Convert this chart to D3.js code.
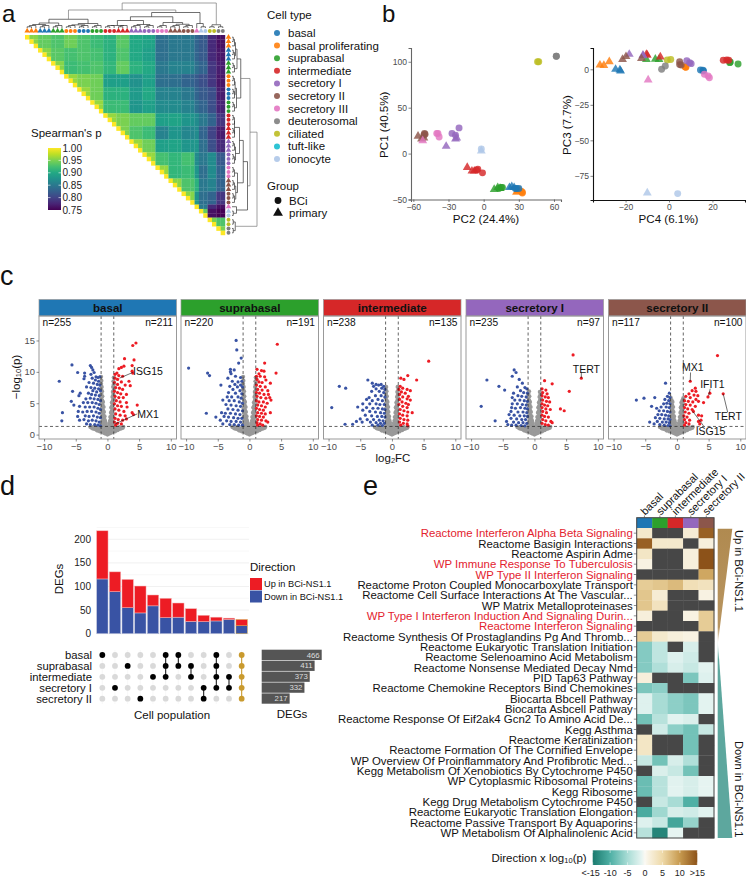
<!DOCTYPE html>
<html><head><meta charset="utf-8">
<script src="https://cdn.jsdelivr.net/npm/d3@7"></script>
<style>
html,body{margin:0;padding:0;background:#fff}
text{font-family:"Liberation Sans",Arial,sans-serif}
</style></head><body><svg id="c" width="746" height="878"></svg>
<script>
// ---------- shared colours / categories
const cellTypes=['basal','basal proliferating','suprabasal','intermediate','secretory I','secretory II','secretory III','deuterosomal','ciliated','tuft-like','ionocyte'];
const cellColors=['#1f77b4','#ff7f0e','#2ca02c','#d62728','#9467bd','#8c564b','#e377c2','#7f7f7f','#bcbd22','#17becf','#aec7e8'];
// ---------- panel a / b samples
const groupType=[1,0,2,1,0,2,3,3,4,4,6,5,5,6,10,8,7];
const groupShape=['t','t','t','c','c','c','c','t','t','c','c','t','c','t','m','c','c'];
const groupCount=[3,3,3,3,3,3,3,3,3,3,3,3,3,1,2,2,2];
const blockUpper=[
[.955,.94,.93,.945,.93,.92,.91,.935,.90,.895,.84,.85,.85,.83,.82,.78,.76],
[.955,.935,.925,.93,.925,.91,.93,.90,.89,.84,.85,.85,.83,.82,.78,.765],
[.955,.92,.925,.93,.915,.94,.91,.90,.85,.86,.86,.84,.83,.79,.77],
[.96,.95,.945,.89,.89,.875,.89,.84,.84,.83,.82,.81,.79,.765],
[.96,.945,.91,.91,.885,.90,.86,.86,.85,.83,.82,.81,.77],
[.96,.92,.92,.88,.89,.87,.87,.86,.84,.83,.81,.775],
[.96,.95,.94,.94,.89,.895,.88,.87,.85,.83,.79],
[.95,.93,.92,.86,.88,.865,.87,.83,.80,.77],
[.96,.945,.89,.895,.88,.88,.84,.81,.78],
[.96,.925,.915,.925,.87,.85,.87,.82],
[.96,.915,.92,.88,.84,.87,.83],
[.955,.93,.91,.85,.86,.83],
[.955,.88,.84,.83,.79],
[1,.85,.78,.76],
[.94,.76,.75],
[.95,.93],
[.95]];
const dendroTree=[1,[.72,[.35,[.2,0,1,2],[.18,3,4,5]],[.62,[.45,[.3,[.1,6,7],[.14,8,9]],[.22,10,[.15,11,12]]],[.18,13,14]]],[.13,15,16]];
const leafHeights=[.05,.1];
const rhoTicks=[1,.95,.9,.85,.8,.75];
const pc2=[29,31,28,24,22,26,9,12,14,33,32,33,28,30,27,15,13,16,-6,-5,-1,-14,-10,-8,-23,-32,-24,-21,-27,-24,-40,-39,-38,-56,-53,-51,-50,-50.5,-51,-52,-2,-2,46,47,62,62];
const pc1=[-41,-40,-42,-36,-37,-37,-39,-37,-38,-42,-41,-43,-38,-38,-38,-37,-38,-37,-18,-17,-21,-15,-19,-19,17,8,16,28,22,20,22,22,18,19,16,17,21,22,20,14,3,5,100,100,106,106];
const pc4=[-31.8,-30,-27.5,-24.6,-22.3,-22.6,-10.4,-6.3,-4.6,7.6,7.4,7.8,14.5,15.6,15.9,28.2,31.8,28,25,26.6,27.5,-10.4,-4,-10,-18.3,-11.9,-12,8.2,9.5,10.2,16.3,18,18.6,-21.4,-19.8,-12.7,4.9,4.9,5.6,-9.6,-10,4,-.8,.8,-3.4,-1.7];
const pc3=[3,2.8,5.4,0,-1.2,-.4,7,7.2,7,1.6,1.8,1.4,-.5,-.7,-1.2,5.2,3.8,4.7,6.4,6.6,6.4,10.6,8.7,10,10.6,9.5,10,6,4.7,4,-3.5,-4.7,-5.9,7,9,7.6,5.4,3.3,3,-7.5,-87,-87.5,6.6,6.9,0,2.4];
// ---------- panel c
const volcanoNames=['basal','suprabasal','intermediate','secretory I','secretory II'];
const volcanoColors=['#1f77b4','#2ca02c','#d62728','#9467bd','#8c564b'];
const nDown=[255,220,238,235,117], nUp=[211,191,135,97,100];
const grayPeak=[9.3,9.2,7.8,6.9,5.9];
const grayPoints=[[-1,9.2],[-.95,8.6],[-1,8.1],[-.9,7.6],[-1,7.2],[-.85,6.9],[-.95,6.5],[-.8,6.1],[-1,5.9],[-.85,5.5],[-.7,5.2],[-.95,5],[-.75,4.7],[-.6,4.4],[-.9,4.2],[-.7,3.9],[-.55,3.6],[-.85,3.4],[-.65,3.1],[-.45,2.9],[-.9,2.8],[-.6,2.6],[-.4,2.3],[-.8,2.2],[-.55,2],[-.3,1.9],[-.95,1.6],[-.7,1.6],[-.45,1.5],[-.2,1.4],
[1,9.1],[.95,8.5],[1,8],[.9,7.6],[1,7.1],[.85,6.8],[.95,6.4],[.8,6],[1,5.8],[.85,5.4],[.7,5.1],[.95,4.9],[.75,4.6],[.6,4.3],[.9,4.1],[.7,3.8],[.55,3.5],[.85,3.3],[.65,3],[.45,2.8],[.9,2.7],[.6,2.5],[.4,2.2],[.8,2.1],[.55,1.9],[.3,1.8],[.95,1.5],[.7,1.5],[.45,1.4],[.2,1.3],
[-2.7,1.2],[-2.4,1],[-2.1,.9],[-2.2,1.25],[-1.8,1.2],[-1.8,.8],[-1.6,.65],[-1.4,1],[-1.2,.5],[-1.3,.8],[-1,1],[-1,.6],[-.8,.9],[-.8,.45],[-.6,.3],[-.6,.75],[-.4,.9],[-.4,.2],[-.2,.15],[-.2,.6],[-.1,1],[0,0],[0,.4],[0,.8],[0,1.2],[.1,.1],[.2,.6],[.2,.2],[.4,.2],[.4,.85],[.6,.3],[.6,.7],[.8,.45],[.8,.95],[1,.55],[1,1],[1.2,.5],[1.3,.85],[1.4,1.1],[1.6,.7],[1.8,.85],[1.9,1.2],[2.1,.95],[2.4,1.05],[2.5,1.25]];
const vDown=[
[[-7.6,8.5],[-7.1,3.5],[-7.2,2.2],[-5.6,11.1],[-4.7,9.9],[-5.5,6.9],[-4.3,6.6],[-4.5,6.2],[-5.7,5.3],[-5.3,4.7],[-3.6,9.8],[-3.6,9.3],[-3.7,8.9],[-2.7,11],[-2.5,10.7],[-2.3,10.3],[-2.1,9.9],[-2.6,9.6],[-1.8,9.2],[-1.5,9.1],[-1.2,9.2],[-2.4,9],[-1.9,8.7],[-1.4,8.5],[-2.9,8.3],[-2.2,8.2],[-1.6,8],[-1.2,7.9],[-3.3,7.6],[-2.6,7.5],[-2,7.4],[-1.4,7.3],[-1.1,7],[-2.3,7],[-1.7,6.8],[-3,6.6],[-2.5,6.4],[-1.9,6.3],[-1.3,6.2],[-3.4,5.7],[-2.7,5.8],[-2.1,5.7],[-1.5,5.6],[-1.1,5.4],[-3.8,5.1],[-3.1,5.1],[-2.4,5.1],[-1.8,5],[-1.3,4.8],[-4.4,4.5],[-3.5,4.4],[-2.8,4.4],[-2.1,4.4],[-1.5,4.2],[-1.1,4],[-4.6,3.7],[-3.9,3.6],[-3.2,3.7],[-2.5,3.7],[-1.8,3.6],[-1.3,3.4],[-4.7,2.9],[-3.5,3],[-2.9,2.9],[-2.2,3],[-1.6,2.8],[-1.1,2.7],[-4.4,2.3],[-3.7,2.4],[-3,2.2],[-2.4,2.3],[-1.8,2.2],[-1.3,2],[-3.3,1.7],[-2.7,1.6],[-2,1.6],[-1.5,1.5],[-1.1,1.4]],
[[-9.6,10.6],[-6.6,9.8],[-6.3,9.4],[-4.5,7.9],[-6.8,3.4],[-5.3,2.8],[-2.1,15],[-2,13.5],[-1.3,12.2],[-1.7,11.4],[-3,10.4],[-3,10],[-2.9,9.7],[-2.4,10.3],[-2.2,9.3],[-3.4,9],[-1.4,9.1],[-1.2,8.5],[-2.7,8.5],[-1.8,8.4],[-2.3,8],[-1.4,7.9],[-3.1,7.7],[-1.9,7.6],[-1.1,7.6],[-2.6,7.2],[-1.5,7],[-3.3,6.7],[-2.2,6.6],[-1.2,6.5],[-3.5,6],[-2.8,6],[-1.8,6],[-1.3,5.8],[-4.2,5.5],[-3.2,5.4],[-2.4,5.4],[-1.6,5.2],[-1.1,5],[-3.7,4.8],[-2.9,4.7],[-2.1,4.6],[-1.4,4.5],[-3.4,4.1],[-2.6,4],[-1.8,3.9],[-1.1,3.8],[-4.4,3.5],[-3.8,3.4],[-3,3.4],[-2.2,3.3],[-1.5,3.2],[-4,2.9],[-3.3,2.8],[-2.5,2.7],[-1.8,2.6],[-1.2,2.6],[-4.6,2.3],[-3.6,2.2],[-2.9,2.1],[-2.1,2.1],[-1.4,2],[-4.2,1.7],[-3.1,1.6],[-2.4,1.6],[-1.7,1.5],[-1.1,1.5]],
[[-8.3,7.7],[-7.3,7.4],[-9.5,4.3],[-3.8,8.7],[-5.4,4.4],[-4.6,3.9],[-7.4,1.65],[-6.2,1.65],[-3.1,8.2],[-2.9,7.7],[-2.5,8],[-2.1,7.9],[-1.7,8],[-1.3,7.7],[-2.5,7.3],[-1.6,7.4],[-1.1,7.2],[-3.2,6.9],[-2,6.9],[-1.3,6.7],[-3.6,5.9],[-4,5.6],[-2.6,6.2],[-1.7,6.2],[-1.1,6],[-3.1,5.4],[-2.2,5.6],[-1.5,5.4],[-4.6,4.9],[-3.5,4.9],[-2.5,4.9],[-1.9,4.8],[-1.2,4.8],[-4,4.3],[-3,4.2],[-2.2,4.2],[-1.5,4.1],[-1.1,4],[-3.5,3.7],[-2.6,3.6],[-1.8,3.5],[-1.2,3.4],[-4.2,3.1],[-3.2,3],[-2.3,2.9],[-1.6,2.9],[-1.1,2.8],[-5,2.5],[-3.9,2.4],[-2.9,2.4],[-2,2.3],[-1.4,2.2],[-4.7,2],[-3.4,2],[-2.5,1.9],[-1.8,1.8],[-1.2,1.8],[-5.6,2.1],[-3.1,1.5],[-2.2,1.5],[-1.5,1.45]],
[[-7.5,8.7],[-5.6,7.7],[-4.7,7.1],[-8.4,4.5],[-6.2,2.2],[-3.2,10.3],[-2.9,9.9],[-3.5,9.3],[-2.4,8.8],[-1.9,8.2],[-2.7,7.6],[-1.5,7.5],[-1.2,7.3],[-2.2,7],[-3.3,6.6],[-1.7,6.7],[-1.1,6.6],[-2.6,6.2],[-3.5,5.9],[-2,6.1],[-1.3,6],[-3.1,5.5],[-2.3,5.5],[-1.6,5.4],[-1.1,5.3],[-3.5,4.9],[-2.7,4.9],[-1.9,4.8],[-1.3,4.7],[-3.6,4.3],[-3,4.2],[-2.2,4.3],[-1.5,4.2],[-1.1,4.1],[-3.7,3.7],[-2.6,3.6],[-1.8,3.6],[-1.2,3.5],[-4,3.2],[-3.2,3.1],[-2.3,3],[-1.6,3],[-1.1,2.9],[-3.7,2.6],[-2.8,2.5],[-2,2.4],[-1.4,2.4],[-4.4,2.1],[-3.3,2],[-2.5,1.9],[-1.8,1.9],[-1.2,1.8],[-4.2,1.6],[-3.6,1.5],[-2.9,1.5],[-2.1,1.45],[-1.5,1.4]],
[[-6.4,5.5],[-5.2,5.8],[-3.5,5.9],[-4,4.5],[-3.2,4.2],[-4.3,2],[-1.8,8.2],[-1.2,6.6],[-1.5,6.1],[-1.1,5.9],[-1.9,5.6],[-1.3,5.4],[-1.6,5],[-2.1,4.9],[-1.1,4.9],[-2.5,4.4],[-1.7,4.4],[-1.2,4.3],[-2.8,3.8],[-2.1,3.8],[-1.5,3.7],[-1.1,3.6],[-3,3.2],[-2.4,3.2],[-1.8,3.1],[-1.3,3],[-3.4,2.7],[-2.7,2.6],[-2,2.5],[-1.4,2.5],[-1.1,2.4],[-3.1,2.1],[-2.3,2],[-1.7,2],[-1.2,1.9],[-3.6,1.7],[-2.7,1.6],[-2,1.5],[-1.4,1.45],[-1.1,1.4]]];
const vUp=[
[[4.5,14.6],[4,14.2],[2.7,12.1],[4.2,11.9],[3.9,11],[2.6,10.9],[2.2,10.7],[1.8,10.5],[3.9,10.1],[4,9.8],[1.5,9.8],[1.2,9.6],[1.8,9.4],[2.4,9.3],[1.2,9],[1.6,8.8],[3.4,8.5],[2.2,8.4],[1.1,8.3],[1.6,8],[2.8,7.9],[3.6,7.8],[1.3,7.5],[1.9,7.4],[2.4,7.2],[1.1,6.9],[1.6,6.7],[2.1,6.5],[3,6.4],[1.2,6.1],[1.8,5.9],[2.5,5.9],[1.4,5.4],[2,5.2],[3,5.1],[1.1,4.9],[1.6,4.6],[2.2,4.5],[4.7,4.7],[3.1,4.4],[1.2,4.1],[1.8,3.9],[2.6,3.7],[3.9,3.5],[4.1,3.2],[1.3,3.3],[2,3.1],[2.8,3],[1.2,2.6],[1.7,2.4],[2.4,2.3],[3,2.5],[1.1,2],[1.6,1.8],[2.2,1.7],[1.3,1.5]],
[[4.4,14.4],[2.4,11.4],[4.2,9.8],[1.2,10.4],[1.9,10.2],[2.3,10.1],[1.5,9.7],[1.1,9.3],[1.7,9.3],[2.4,9.2],[1.2,8.8],[2.6,8.7],[1.5,8.4],[2,8.3],[3.3,8.2],[1.1,7.9],[1.7,7.7],[2.5,7.6],[1.3,7.2],[2,7.1],[2.9,7],[1.1,6.7],[1.6,6.6],[2.3,6.4],[3,6.4],[3.2,5.9],[1.2,6.1],[1.8,5.9],[2.6,5.8],[3.4,5.5],[1.1,5.4],[1.5,5.2],[2.2,5.2],[2.8,5],[1.3,4.7],[1.9,4.6],[2.5,4.4],[1.1,4.2],[1.6,4],[2.2,3.9],[3.3,3.5],[1.3,3.5],[1.9,3.4],[2.5,3.3],[1.1,3],[1.6,2.9],[2.2,2.8],[1.3,2.4],[1.9,2.3],[2.6,2.2],[1.2,1.9],[1.7,1.7],[2.9,2],[1.3,1.5],[2.1,1.5]],
[[5.8,11.7],[2.5,9.4],[1.4,9],[1.9,8.8],[3.9,8.7],[1.3,7.7],[1.7,7.4],[2.4,7.2],[1.1,7.2],[2.9,7],[1.5,6.8],[2.1,6.6],[1.2,6.4],[2.6,6.1],[1.7,6],[2.4,5.7],[1.2,5.6],[2.9,5.5],[1.6,5.2],[2.2,5],[2.6,4.8],[1.1,4.8],[1.7,4.5],[2.4,4.3],[3.2,3.5],[1.3,4],[1.9,3.8],[2.5,3.6],[1.2,3.3],[1.7,3.1],[2.4,3],[1.3,2.6],[1.9,2.4],[2.5,2.3],[1.2,2],[1.8,1.8],[2.4,1.7],[1.4,1.5],[2.5,1.4]],
[[6.1,12.7],[7.4,9],[5.5,6.9],[4.1,4.1],[4.7,3.8],[2.8,8.1],[1.6,8.6],[1.2,7.3],[1.8,7.1],[1.3,6.7],[2,6.5],[1.2,6.2],[1.7,6],[2.2,5.9],[1.3,5.5],[1.9,5.3],[2.4,5.2],[1.2,4.9],[1.6,4.7],[2.1,4.6],[1.2,4.3],[1.8,4.1],[2.5,4],[1.3,3.7],[1.9,3.5],[1.2,3.1],[1.6,2.9],[2.2,2.8],[1.3,2.4],[1.8,2.2],[2.6,2.1],[1.2,1.8],[1.7,1.6],[2.2,1.5],[2.8,1.9]],
[[6.4,12.6],[7.3,6.5],[2.1,8.5],[4.9,6],[5.2,6.6],[2.9,7.4],[4.2,5.1],[3.9,3],[3.4,2.1],[2.4,7],[3,6.9],[1.9,6.5],[2.7,6.3],[3.3,6.2],[1.4,6.1],[2.1,5.9],[3,5.6],[1.2,5.4],[1.8,5.3],[2.5,5.2],[3.4,5.3],[1.4,4.8],[2.1,4.7],[2.9,4.5],[1.2,4.3],[1.7,4.1],[2.4,4],[1.3,3.6],[1.9,3.4],[2.6,3.7],[1.1,3],[1.6,2.8],[3.4,3.1],[1.2,2.4],[2,2.3],[3.8,2.3],[1.4,1.9],[1.9,1.7],[1.2,1.5],[3.6,1.7]]];
const vLabels=[
[['ISG15',4.05,10.2,1.9,9,4,9.9,'start'],['MX1',4.7,3.3,1.2,1.7,4.7,3.3,'start']],
[],[],
[['TERT',8.2,10.5,7.4,9,7.4,9.9,'middle']],
[['MX1',2.5,10.7,2.1,8.5,2.15,9.9,'middle'],['IFIT1',5.6,8,5,6.2,5.25,7.3,'middle'],['TERT',8.1,3,7.3,6.5,8,3.6,'middle'],['ISG15',5.3,.6,2.5,3.7,4.2,1.4,'middle']]];
const volcanoXTicks=[-10,-5,0,5,10], volcanoYTicks=[0,5,10,15];
// ---------- panel d
const barDown=[116,89,55,44,59,34,35,26,25.5,27,30,17];
const barUp=[102,42,60,57,23,41,30,27,13.5,8,3,13];
const setNames=['basal','suprabasal','intermediate','secretory I','secretory II'];
const setTotals=[466,411,373,332,217];
const combos=[[0],[3],[1],[4],[2],[0,1,2],[0,1],[1,2],[3,4],[0,1,2,3],[2,3],[0,1,2,3,4]];
const barTicks=[0,50,100,150,200];
// ---------- panel e
const pathwayNames=['Reactome Interferon Alpha Beta Signaling','Reactome Basigin Interactions','Reactome Aspirin Adme','WP Immune Response To Tuberculosis','WP Type II Interferon Signaling','Reactome Proton Coupled Monocarboxylate Transport','Reactome Cell Surface Interactions At The Vascular...','WP Matrix Metalloproteinases','WP Type I Interferon Induction And Signaling Durin...','Reactome Interferon Signaling','Reactome Synthesis Of Prostaglandins Pg And Thromb...','Reactome Eukaryotic Translation Initiation','Reactome Selenoamino Acid Metabolism','Reactome Nonsense Mediated Decay Nmd','PID Tap63 Pathway','Reactome Chemokine Receptors Bind Chemokines','Biocarta Bbcell Pathway','Biocarta Asbcell Pathway','Reactome Response Of Eif2ak4 Gcn2 To Amino Acid De...','Kegg Asthma','Reactome Keratinization','Reactome Formation Of The Cornified Envelope','WP Overview Of Proinflammatory And Profibrotic Med...','Kegg Metabolism Of Xenobiotics By Cytochrome P450','WP Cytoplasmic Ribosomal Proteins','Kegg Ribosome','Kegg Drug Metabolism Cytochrome P450','Reactome Eukaryotic Translation Elongation','Reactome Passive Transport By Aquaporins','WP Metabolism Of Alphalinolenic Acid'];
const redPathways=[0,3,4,8,9];
const n=null;
const pathwayValues=[[2.5,n,n,2,14],[14,2.5,2.5,n,1.5],[3,n,n,1.5,15],[1,n,n,1.5,15],[n,n,n,n,9],[6,6.5,7.5,4,3.5],[6.5,2,n,n,1],[6.5,3.5,n,n,n],[1.5,n,n,1,6],[n,n,n,n,6],[6,2.5,1.5,1,n],[-7,-3.5,n,-2,n],[-7,-3.5,-1.5,-2.5,n],[-7,-4.5,-2,-3,-1.2],[1.5,n,n,-7.5,-1.5],[-7.5,-6.5,n,n,n],[-1.5,-5,-6.5,-7.5,-1.2],[-1.5,-5,-6.5,-7.5,-1.2],[-8,-4,-1.2,-1.8,n],[n,-2.5,-6.5,-8,-3],[3,n,n,-8,n],[3,n,n,-8,n],[-3,-8,-2,-4.5,n],[n,-1.8,-3,-8,n],[-8.5,-4,-1.3,-2,-1],[-8.5,-4,-1.2,-2,-1],[n,-3,-5,-10,n],[-10.5,-5.5,-2,-2.5,-1.3],[-1.5,-3,-11,-6,n],[-4,-14,-1,n,n]];
const divDomain=[-15,-10,-5,-1,0,1,5,10,15];
const divColors=['#1a7a6e','#4fb0a5','#a8dcd5','#e6f4f1','#fbf9f2','#f8f2e2','#eed9a8','#c79a4f','#8c5219'];
const divTicks=[-15,-10,-5,0,5,10,15];
const divTickLabels=['<-15','-10','-5','0','5','10','>15'];

const svg=d3.select('#c');
const txt=(g,x,y,s,size,o={})=>g.append('text').attr('x',x).attr('y',y).attr('font-size',size).attr('fill',o.fill||'#111').attr('text-anchor',o.a||'start').attr('dominant-baseline',o.b||'central').attr('font-weight',o.w||null).attr('transform',o.t||null).text(s);
[['a',2,21.8,24],['b',382,21.8,24],['c',0,285,27],['d',0,495,27],['e',363,495,27]].forEach(d=>txt(svg,d[1],d[2],d[0],d[3],{b:'auto'}));

// ---- panel a
const sampleType=[],sampleShape=[],sampleGroup=[];
groupCount.forEach((c,g)=>{for(let i=0;i<c;i++){sampleType.push(groupType[g]);sampleShape.push(groupShape[g]==='m'?(i?'c':'t'):groupShape[g]);sampleGroup.push(g);}});
const N=sampleType.length;
const band=d3.scaleBand().domain(d3.range(N)).range([25,225]);
const bw=band.bandwidth();
const rowOff=10;
const rhoC=d3.scaleSequential(d3.interpolateViridis).domain([.75,1]);
const cells=[];
for(let i=0;i<N;i++)for(let j=i;j<N;j++){
 const gi=sampleGroup[i],gj=sampleGroup[j];
 cells.push({i,j,v:i===j?1:blockUpper[gi][gj-gi]});
}
svg.append('g').selectAll('rect').data(cells).join('rect').attr('x',d=>band(d.j)).attr('y',d=>band(d.i)+rowOff).attr('width',bw+.2).attr('height',bw+.2).attr('fill',d=>rhoC(d.v));
const shapePath=(s,size)=>d3.symbol().type(s==='t'?d3.symbolTriangle:d3.symbolCircle).size(size)();
const annA=svg.append('g');
d3.range(N).forEach(i=>{
 const col=cellColors[sampleType[i]];
 annA.append('path').attr('d',shapePath(sampleShape[i],sampleShape[i]==='t'?13:12)).attr('fill',col).attr('transform',`translate(${band(i)+bw/2},31)`);
 annA.append('path').attr('d',shapePath(sampleShape[i],sampleShape[i]==='t'?13:12)).attr('fill',col).attr('transform',`translate(228.5,${band(i)+bw/2+rowOff})`);
});
// dendrograms
const hPx=d3.scaleLinear().domain([0,1]).range([0,25]);
const groupStart=[];{let s=0;groupCount.forEach(c=>{groupStart.push(s);s+=c;});}
function layout(node,segs){
 if(typeof node==='number'){
  const idx=d3.range(groupStart[node],groupStart[node]+groupCount[node]);
  let x=band(idx[0])+bw/2,h=0;
  idx.slice(1).forEach((k,t)=>{
   const nh=leafHeights[Math.min(t,1)],kx=band(k)+bw/2;
   segs.push({x0:x,x1:kx,h:nh,h0:h,h1:0});
   x=(x+kx)/2;h=nh;
  });
  return {x,h};
 }
 const hh=node[0],kids=node.slice(1).map(k=>layout(k,segs));
 if(kids.length===3){
  const a=kids[0],b=kids[1];const m=hh*.7;
  segs.push({x0:a.x,x1:b.x,h:m,h0:a.h,h1:b.h});
  const mx=(a.x+b.x)/2,c=kids[2];
  segs.push({x0:mx,x1:c.x,h:hh,h0:m,h1:c.h});
  return {x:(mx+c.x)/2,h:hh};
 }
 const a=kids[0],b=kids[1];
 segs.push({x0:a.x,x1:b.x,h:hh,h0:a.h,h1:b.h});
 return {x:(a.x+b.x)/2,h:hh};
}
const segs=[];layout(dendroTree,segs);
const dendC=d=>d.h>=.7?'#7a7a7a':'#333';
svg.append('g').selectAll('path').data(segs).join('path').attr('fill','none').attr('stroke',dendC).attr('stroke-width',.7)
 .attr('d',d=>`M${d.x0},${28-hPx(d.h0)}V${28-hPx(d.h)}H${d.x1}V${28-hPx(d.h1)}`);
svg.append('g').selectAll('path').data(segs).join('path').attr('fill','none').attr('stroke',dendC).attr('stroke-width',.7)
 .attr('d',d=>`M${232+hPx(d.h0)},${d.x0+rowOff}H${232+hPx(d.h)}V${d.x1+rowOff}H${232+hPx(d.h1)}`);
// colour bar
const defs=svg.append('defs');
const lg=defs.append('linearGradient').attr('id','vir').attr('x1',0).attr('x2',0).attr('y1',0).attr('y2',1);
d3.range(0,1.01,.1).forEach(t=>lg.append('stop').attr('offset',t).attr('stop-color',d3.interpolateViridis(1-t)));
const rhoY=d3.scaleLinear().domain([1,.75]).range([148,210]);
const legA=svg.append('g');
legA.append('rect').attr('x',48).attr('y',148).attr('width',13).attr('height',62).attr('fill','url(#vir)');
txt(legA,31,133,"Spearman's p",11.5);
rhoTicks.forEach(t=>{txt(legA,62.5,rhoY(t),d3.format('.2f')(t),10,{fill:'#222'});
 if(t<1&&t>.75){legA.append('line').attr('x1',48).attr('x2',50.5).attr('y1',rhoY(t)).attr('y2',rhoY(t)).attr('stroke','#fff').attr('stroke-width',.6);legA.append('line').attr('x1',58.5).attr('x2',61).attr('y1',rhoY(t)).attr('y2',rhoY(t)).attr('stroke','#fff').attr('stroke-width',.6);}});
// cell type legend
const legT=svg.append('g');
txt(legT,267,14.5,'Cell type',11.5);
const legY=d3.scaleLinear().domain([0,10]).range([33,159]);
cellTypes.forEach((c,i)=>{legT.append('circle').attr('cx',277).attr('cy',legY(i)).attr('r',3).attr('fill',cellColors[i]).attr('opacity',.9);txt(legT,288,legY(i),c,11.5);});
txt(legT,267,186,'Group',11.5);
[['BCi','c',200.5],['primary','t',213]].forEach(d=>{legT.append('path').attr('d',shapePath(d[1],d[1]==='t'?42:36)).attr('fill','#111').attr('transform',`translate(278,${d[2]})`);txt(legT,289,d[2],d[0],11.5);});

// ---- panel b
function pca(xs,ys,xd,xr,yd,yr,xTicks,yTicks,xl,yl,axisCol,ylx){
 const x=d3.scaleLinear().domain(xd).range(xr),y=d3.scaleLinear().domain(yd).range(yr);
 const g=svg.append('g');
 const ax=g.append('g').attr('transform',`translate(0,${yr[0]})`).call(d3.axisBottom(x).tickValues(xTicks).tickSize(2.5).tickPadding(1.5));
 const ay=g.append('g').attr('transform',`translate(${xr[0]},0)`).call(d3.axisLeft(y).tickValues(yTicks).tickSize(2.5).tickPadding(1.5));
 [ax,ay].forEach(a=>{a.selectAll('text').attr('font-size',8.6).attr('fill','#4d4d4d').attr('font-family','"Liberation Sans"');a.selectAll('.tick line').attr('stroke','#333').attr('stroke-width',.6);a.select('.domain').attr('stroke',axisCol).attr('stroke-width',1.1);});
 g.selectAll('.pt').data(d3.range(N)).join('path').attr('class','pt').attr('d',i=>shapePath(sampleShape[i],sampleShape[i]==='t'?34:38))
  .attr('transform',i=>`translate(${x(xs[i])},${y(ys[i])})`).attr('fill',i=>cellColors[sampleType[i]]).attr('opacity',.82);
 txt(g,(xr[0]+xr[1])/2+ (xl[1]||0),218,xl[0],11.6,{a:'middle'});
 txt(g,0,0,yl,11.6,{a:'middle',t:`translate(${ylx},${(yr[0]+yr[1])/2+1}) rotate(-90)`});
}
pca(pc2,pc1,[-62,66],[411,561],[-50,115],[199.5,48],[-60,-30,0,30,60],[-50,0,50,100],['PC2 (24.4%)',0],'PC1 (40.5%)','#666',383);
pca(pc4,pc3,[-35,35],[593,745],[-92,15],[200,48],[-20,0,20],[-75,-50,-25,0],['PC4 (6.1%)',-.5],'PC3 (7.7%)','#111',566);

// ---- panel c
const panelL=[39,181,323.5,466,608.5], panelW=137.5;
const vy=d3.scaleLinear().domain([-.7,18.9]).range([439,316]);
volcanoNames.forEach((nm,k)=>{
 const L=panelL[k];
 const vx=d3.scaleLinear().domain([-10.8,10.9]).range([L,L+panelW]);
 const g=svg.append('g');
 g.append('rect').attr('x',L).attr('y',299.5).attr('width',panelW).attr('height',16.5).attr('fill',volcanoColors[k]).attr('stroke','#999').attr('stroke-width',.7);
 txt(g,L+panelW/2,307.8,nm,11.6,{a:'middle',w:'bold'});
 g.append('g').selectAll('circle').data(grayPoints.filter(p=>p[1]<=grayPeak[k])).join('circle').attr('cx',p=>vx(p[0])).attr('cy',p=>vy(p[1])).attr('r',2.1).attr('fill','#999');
 g.append('g').selectAll('circle').data(vDown[k]).join('circle').attr('cx',p=>vx(p[0])).attr('cy',p=>vy(p[1])).attr('r',1.6).attr('fill','#3953a4');
 g.append('g').selectAll('circle').data(vUp[k]).join('circle').attr('cx',p=>vx(p[0])).attr('cy',p=>vy(p[1])).attr('r',1.6).attr('fill','#ed1c24');
 [-1,1].forEach(v=>g.append('line').attr('x1',vx(v)).attr('x2',vx(v)).attr('y1',316).attr('y2',439).attr('stroke','#222').attr('stroke-width',.7).attr('stroke-dasharray','3,2.5'));
 g.append('line').attr('x1',L).attr('x2',L+panelW).attr('y1',vy(1.3)).attr('y2',vy(1.3)).attr('stroke','#222').attr('stroke-width',.7).attr('stroke-dasharray','3,2.5');
 g.append('rect').attr('x',L).attr('y',316).attr('width',panelW).attr('height',123).attr('fill','none').attr('stroke','#999').attr('stroke-width',1);
 txt(g,L+3.5,322,'n='+nDown[k],10.2);
 txt(g,L+panelW-3.5,322,'n='+nUp[k],10.2,{a:'end'});
 vLabels[k].forEach(l=>{
  g.append('line').attr('x1',vx(l[3])).attr('y1',vy(l[4])).attr('x2',vx(l[5])).attr('y2',vy(l[6])).attr('stroke','#111').attr('stroke-width',.6);
  txt(g,vx(l[1]),vy(l[2]),l[0],10.5,{a:l[7]});
 });
 const ax=g.append('g').attr('transform','translate(0,439)').call(d3.axisBottom(vx).tickValues(volcanoXTicks).tickSize(2.5).tickPadding(1.5));
 ax.select('.domain').remove();ax.selectAll('text').attr('font-size',9.4).attr('fill','#4d4d4d').attr('font-family','"Liberation Sans"');ax.selectAll('line').attr('stroke','#444').attr('stroke-width',.6);
 if(k===0){
  const ay=g.append('g').attr('transform',`translate(${L},0)`).call(d3.axisLeft(vy).tickValues(volcanoYTicks).tickSize(2.5).tickPadding(1.5));
  ay.select('.domain').remove();ay.selectAll('text').attr('font-size',9.4).attr('fill','#4d4d4d').attr('font-family','"Liberation Sans"');ay.selectAll('line').attr('stroke','#444').attr('stroke-width',.6);
 }
});
const yl=txt(svg,0,0,'',11.5,{a:'middle',t:'translate(16,377) rotate(-90)'});
yl.append('tspan').text('−log');yl.append('tspan').text('10').attr('font-size',7.5).attr('dy',2);yl.append('tspan').text('(p)').attr('dy',-2);
const xl=txt(svg,393,458,'',11.5,{a:'middle'});
xl.append('tspan').text('log');xl.append('tspan').text('2').attr('font-size',7.5).attr('dy',2);xl.append('tspan').text('FC').attr('dy',-2);

// ---- panel d
const barX=d3.scaleBand().domain(d3.range(12)).range([96,248]).paddingInner(.1).paddingOuter(.05);
const barY=d3.scaleLinear().domain([0,225]).range([633.7,527.5]);
const gd=svg.append('g');
d3.range(0,226,25).forEach(t=>gd.append('line').attr('x1',96.7).attr('x2',249).attr('y1',barY(t)).attr('y2',barY(t)).attr('stroke',t%50?'#f5f5f5':'#ebebeb').attr('stroke-width',.7));
const stack=barDown.map((d,i)=>({i,d,u:barUp[i]}));
gd.selectAll('.bd').data(stack).join('rect').attr('class','bd').attr('x',d=>barX(d.i)).attr('width',barX.bandwidth()).attr('y',d=>barY(d.d)).attr('height',d=>barY(0)-barY(d.d)).attr('fill','#3953a4').attr('stroke',d=>d.i===11?'#d4a94a':'#c8cce0').attr('stroke-width',.5);
gd.selectAll('.bu').data(stack).join('rect').attr('class','bu').attr('x',d=>barX(d.i)).attr('width',barX.bandwidth()).attr('y',d=>barY(d.d+d.u)).attr('height',d=>barY(d.d)-barY(d.d+d.u)).attr('fill','#ed1c24').attr('stroke',d=>d.i===11?'#d4a94a':'#f4b6b6').attr('stroke-width',.5);
barTicks.forEach(t=>txt(gd,91,barY(t),t,10,{a:'end',fill:'#222'}));
txt(gd,0,0,'DEGs',11.5,{a:'middle',t:'translate(59,579) rotate(-90)'});
txt(gd,250,567,'Direction',11.5);
[['Up in BCi-NS1.1','#ed1c24',578],['Down in BCi-NS1.1','#3953a4',590.5]].forEach(d=>{gd.append('rect').attr('x',250).attr('y',d[2]).attr('width',12).attr('height',12).attr('fill',d[1]);txt(gd,264,d[2]+6,d[0],9.2);});
const setY=d3.scaleLinear().domain([0,4]).range([655,698.7]);
setNames.forEach((s,i)=>txt(gd,92,setY(i),s,11.3,{a:'end'}));
combos.forEach((c,k)=>{
 const cx=barX(k)+barX.bandwidth()/2,gold=k===11,col=gold?'#c99a2e':'#000';
 gd.append('line').attr('x1',cx).attr('x2',cx).attr('y1',650).attr('y2',704).attr('stroke','#f3f3f3').attr('stroke-width',.6);
 if(c.length>1)gd.append('line').attr('x1',cx).attr('x2',cx).attr('y1',setY(c[0])).attr('y2',setY(c[c.length-1])).attr('stroke',gold?col:'#222').attr('stroke-width',1.1);
 setNames.forEach((_,i)=>gd.append('circle').attr('cx',cx).attr('cy',setY(i)).attr('r',2.9).attr('fill',c.includes(i)?col:'#d9d9d9'));
});
txt(gd,172,715,'Cell population',11.5,{a:'middle'});
const totX=d3.scaleLinear().domain([0,466]).range([261.7,321.7]);
setTotals.forEach((t,i)=>{gd.append('rect').attr('x',totX(0)).attr('y',setY(i)-5.3).attr('width',totX(t)-totX(0)).attr('height',10.3).attr('fill','#555');txt(gd,totX(t)-2,setY(i),t,7.8,{a:'end',fill:'#ddd'});});
txt(gd,292,714,'DEGs',11.5,{a:'middle'});

// ---- panel e
const colX=d3.scaleBand().domain(d3.range(5)).range([636.7,714]);
const rowY=d3.scaleBand().domain(d3.range(30)).range([528,838]);
const divC=d3.scaleLinear().domain(divDomain).range(divColors);
const ge=svg.append('g');
volcanoNames.forEach((nm,j)=>{
 ge.append('rect').attr('x',colX(j)).attr('y',517.7).attr('width',colX.bandwidth()+.3).attr('height',10.5).attr('fill',volcanoColors[j]);
 const cx=colX(j)+colX.bandwidth()/2;
 ge.append('line').attr('x1',cx).attr('x2',cx).attr('y1',515.5).attr('y2',517.5).attr('stroke','#333').attr('stroke-width',.6);
 txt(ge,0,0,nm,11,{b:'central',t:`translate(${cx-2},${513}) rotate(-45)`});
});
pathwayValues.forEach((r,i)=>r.forEach((v,j)=>ge.append('rect').attr('x',colX(j)).attr('y',rowY(i)).attr('width',colX.bandwidth()+.3).attr('height',rowY.bandwidth()+.3).attr('fill',v===null?'#474747':divC(v))));
ge.append('rect').attr('x',636.7).attr('y',517.7).attr('width',77.3).attr('height',320.3).attr('fill','none').attr('stroke','#444').attr('stroke-width',1);
pathwayNames.forEach((p,i)=>{
 const y=rowY(i)+rowY.bandwidth()/2;
 ge.append('line').attr('x1',633.8).attr('x2',636.7).attr('y1',y).attr('y2',y).attr('stroke','#444').attr('stroke-width',.6);
 txt(ge,632.8,y,p,11.4,{a:'end',fill:redPathways.includes(i)?'#e3222e':'#111'});
});
// direction wedges
const gU=defs.append('linearGradient').attr('id','wu').attr('x1',0).attr('x2',0).attr('y1',0).attr('y2',1);
[[0,'#b08a50'],[.85,'#b89560'],[1,'#ffffff']].forEach(s=>gU.append('stop').attr('offset',s[0]).attr('stop-color',s[1]));
const gD=defs.append('linearGradient').attr('id','wd').attr('x1',0).attr('x2',0).attr('y1',0).attr('y2',1);
[[0,'#ffffff'],[.1,'#5da79e'],[1,'#5da79e']].forEach(s=>gD.append('stop').attr('offset',s[0]).attr('stop-color',s[1]));
const wedgeY=d3.scaleLinear().domain([0,1]).range([528.7,838]);
ge.append('path').attr('d',`M717.7,${wedgeY(0)}H732.3L717.7,${wedgeY(.375)}Z`).attr('fill','url(#wu)');
ge.append('path').attr('d',`M717.7,${wedgeY(.36)}L732.3,${wedgeY(1)}H717.7Z`).attr('fill','url(#wd)');
txt(ge,0,0,'Up in BCi-NS1.1',11.2,{t:'translate(739,530) rotate(90)'});
txt(ge,0,0,'Down in BCi-NS1.1',11.2,{t:'translate(739,741) rotate(90)'});
// colour legend
const gL=defs.append('linearGradient').attr('id','divl');
divDomain.forEach((d,i)=>gL.append('stop').attr('offset',(d+15)/30).attr('stop-color',divColors[i]));
const legX=d3.scaleLinear().domain([-15,15]).range([592.7,697.3]);
ge.append('rect').attr('x',592.7).attr('y',850.3).attr('width',104.6).attr('height',14.7).attr('fill','url(#divl)');
divTicks.forEach((t,i)=>{
 ge.append('line').attr('x1',legX(t)).attr('x2',legX(t)).attr('y1',850.3).attr('y2',853).attr('stroke','#fff').attr('stroke-width',.5);
 ge.append('line').attr('x1',legX(t)).attr('x2',legX(t)).attr('y1',862.3).attr('y2',865).attr('stroke','#fff').attr('stroke-width',.5);
 txt(ge,legX(t)+(i===0?-2:0),873,divTickLabels[i],9,{a:'middle',fill:'#222'});
});
const dl=txt(ge,586.7,857.5,'',11.5,{a:'end'});
dl.append('tspan').text('Direction x log');dl.append('tspan').text('10').attr('font-size',7.5).attr('dy',2);dl.append('tspan').text('(p)').attr('dy',-2);
</script></body></html>
